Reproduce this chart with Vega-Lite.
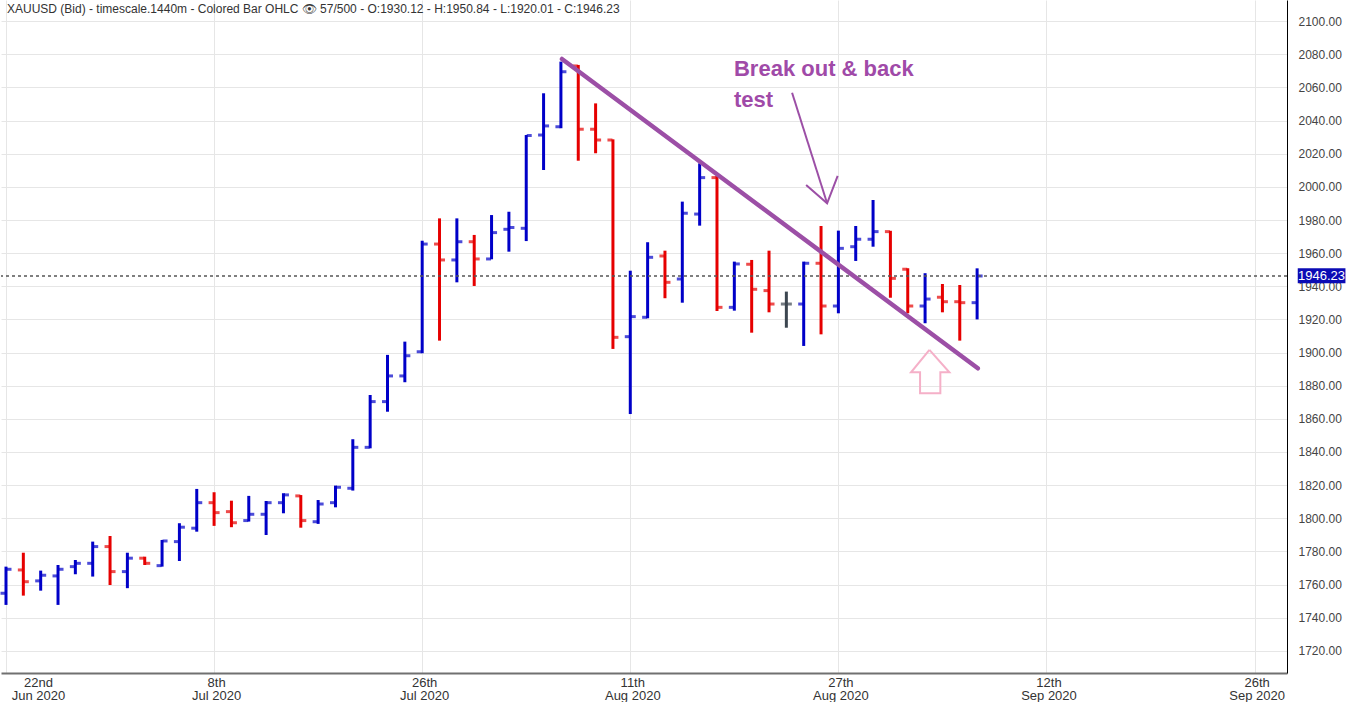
{
  "$schema": "https://vega.github.io/schema/vega-lite/v6.json",
  "width": 1286,
  "height": 673,
  "padding": 0,
  "autosize": {"type": "pad"},
  "background": "white",
  "config": {"view": {"stroke": null}, "font": "Liberation Sans"},
  "title": {"text": "XAUUSD (Bid) - timescale.1440m - Colored Bar OHLC 👁 57/500 - O:1930.12 - H:1950.84 - L:1920.01 - C:1946.23", "anchor": "start", "frame": "group", "offset": -16, "dx": 6, "fontSize": 12, "fontWeight": "normal", "color": "#333333", "font": "Liberation Sans"},
  "datasets": {
    "ohlc": [
      {"i":1,"o":1754.7,"h":1770.8,"l":1747.7,"c":1769.2},
      {"i":2,"o":1768.8,"h":1779.2,"l":1753.3,"c":1761.7},
      {"i":3,"o":1762.2,"h":1768.4,"l":1756.3,"c":1765.6},
      {"i":4,"o":1765.2,"h":1771.8,"l":1747.7,"c":1769.2},
      {"i":5,"o":1770.8,"h":1774.8,"l":1766.2,"c":1772.8},
      {"i":6,"o":1772.8,"h":1785.9,"l":1764.8,"c":1782.9},
      {"i":7,"o":1782.9,"h":1789.3,"l":1759.7,"c":1767.8},
      {"i":8,"o":1767.8,"h":1779.2,"l":1757.8,"c":1775.9},
      {"i":9,"o":1775.9,"h":1776.8,"l":1771.8,"c":1772.8},
      {"i":10,"o":1771.4,"h":1786.9,"l":1770.8,"c":1786.3},
      {"i":11,"o":1785.9,"h":1797.0,"l":1774.2,"c":1794.6},
      {"i":12,"o":1794.0,"h":1817.7,"l":1791.9,"c":1809.4},
      {"i":13,"o":1809.4,"h":1815.7,"l":1795.4,"c":1803.4},
      {"i":14,"o":1804.0,"h":1810.6,"l":1794.6,"c":1797.3},
      {"i":15,"o":1798.6,"h":1813.5,"l":1798.0,"c":1802.4},
      {"i":16,"o":1802.4,"h":1810.4,"l":1789.9,"c":1809.4},
      {"i":17,"o":1809.4,"h":1815.1,"l":1803.0,"c":1814.1},
      {"i":18,"o":1813.5,"h":1814.0,"l":1794.3,"c":1798.6},
      {"i":19,"o":1797.9,"h":1811.0,"l":1796.6,"c":1808.6},
      {"i":20,"o":1809.4,"h":1819.7,"l":1806.6,"c":1818.7},
      {"i":21,"o":1818.1,"h":1847.7,"l":1816.7,"c":1842.8},
      {"i":22,"o":1842.8,"h":1874.4,"l":1842.2,"c":1870.4},
      {"i":23,"o":1870.4,"h":1898.6,"l":1864.3,"c":1885.9},
      {"i":24,"o":1885.9,"h":1906.6,"l":1882.1,"c":1898.1},
      {"i":25,"o":1900.5,"h":1967.5,"l":1899.6,"c":1965.5},
      {"i":26,"o":1965.5,"h":1981.0,"l":1907.2,"c":1955.9},
      {"i":27,"o":1955.9,"h":1981.0,"l":1942.4,"c":1966.9},
      {"i":28,"o":1966.9,"h":1971.0,"l":1940.2,"c":1956.5},
      {"i":29,"o":1956.5,"h":1983.0,"l":1956.3,"c":1972.4},
      {"i":30,"o":1974.4,"h":1985.0,"l":1960.9,"c":1975.5},
      {"i":31,"o":1975.0,"h":2031.3,"l":1967.3,"c":2031.0},
      {"i":32,"o":2031.3,"h":2056.5,"l":2010.2,"c":2036.8},
      {"i":33,"o":2036.3,"h":2075.6,"l":2035.4,"c":2069.5},
      {"i":34,"o":2073.0,"h":2073.6,"l":2015.8,"c":2034.8},
      {"i":35,"o":2034.8,"h":2050.4,"l":2020.3,"c":2028.3},
      {"i":36,"o":2028.3,"h":2028.7,"l":1902.2,"c":1909.2},
      {"i":37,"o":1909.6,"h":1949.4,"l":1862.9,"c":1921.7},
      {"i":38,"o":1921.3,"h":1966.6,"l":1920.7,"c":1957.5},
      {"i":39,"o":1958.3,"h":1961.5,"l":1932.8,"c":1942.4},
      {"i":40,"o":1944.4,"h":1991.1,"l":1930.1,"c":1984.1},
      {"i":41,"o":1983.6,"h":2014.2,"l":1976.6,"c":2005.6},
      {"i":42,"o":2005.6,"h":2006.6,"l":1925.1,"c":1927.3},
      {"i":43,"o":1927.3,"h":1954.9,"l":1925.3,"c":1953.5},
      {"i":44,"o":1953.3,"h":1955.9,"l":1912.0,"c":1938.2},
      {"i":45,"o":1937.4,"h":1961.5,"l":1924.3,"c":1929.3},
      {"i":46,"o":1929.3,"h":1936.8,"l":1915.0,"c":1929.3},
      {"i":47,"o":1929.3,"h":1954.9,"l":1904.0,"c":1953.9},
      {"i":48,"o":1953.9,"h":1976.4,"l":1911.0,"c":1928.1},
      {"i":49,"o":1928.1,"h":1973.6,"l":1923.7,"c":1962.9},
      {"i":50,"o":1963.9,"h":1976.4,"l":1955.3,"c":1968.4},
      {"i":51,"o":1968.4,"h":1992.1,"l":1963.9,"c":1973.0},
      {"i":52,"o":1973.0,"h":1973.5,"l":1933.1,"c":1944.8},
      {"i":53,"o":1950.3,"h":1950.9,"l":1923.7,"c":1928.1},
      {"i":54,"o":1928.1,"h":1947.9,"l":1917.7,"c":1932.3},
      {"i":55,"o":1933.4,"h":1941.4,"l":1924.3,"c":1930.7},
      {"i":56,"o":1930.7,"h":1940.8,"l":1907.2,"c":1930.12},
      {"i":57,"o":1930.12,"h":1950.84,"l":1920.01,"c":1946.23}
    ],
    "trend": [{"i":33.06,"p":2077.2},{"i":57.04,"p":1890.5}],
    "arrow": [
      {"seg":"a","k":1,"i":46.33,"p":2056.8},
      {"seg":"a","k":2,"i":48.35,"p":1990.1},
      {"seg":"b","k":1,"i":47.14,"p":2001.1},
      {"seg":"b","k":2,"i":48.35,"p":1990.1},
      {"seg":"b","k":3,"i":48.96,"p":2006.6}
    ],
    "uparrow": [
      {"k":1,"i":54.25,"p":1901.6},
      {"k":2,"i":55.40,"p":1888.1},
      {"k":3,"i":54.88,"p":1888.1},
      {"k":4,"i":54.88,"p":1875.4},
      {"k":5,"i":53.71,"p":1875.4},
      {"k":6,"i":53.71,"p":1888.1},
      {"k":7,"i":53.19,"p":1888.1},
      {"k":8,"i":54.25,"p":1901.6}
    ],
    "note": [{"i":42.98,"p":2067.1}],
    "last": [{"i1":75.49,"i2":78.24,"p1":1941.8,"p2":1950.9,"im":76.86,"p":1946.23,"label":"1946.23"}]
  },
  "layer": [
    {
      "data": {"name": "ohlc"},
      "mark": {"type": "rule", "strokeWidth": 3},
      "encoding": {
        "x": {"field": "i", "type": "quantitative", "title": null,
              "scale": {"domain": [0.712, 74.87], "nice": false, "zero": false},
              "axis": {"orient": "bottom", "title": null, "values": [1, 13, 25, 37, 49, 61, 73], "tickCount": 20,
                       "labelExpr": "datum.value == 1 ? ['22nd', 'Jun 2020'] : datum.value == 13 ? ['8th', 'Jul 2020'] : datum.value == 25 ? ['26th', 'Jul 2020'] : datum.value == 37 ? ['11th', 'Aug 2020'] : datum.value == 49 ? ['27th', 'Aug 2020'] : datum.value == 61 ? ['12th', 'Sep 2020'] : ['26th', 'Sep 2020']",
                       "labelOffset": {"condition": {"test": "datum.value == 1", "value": 32}, "value": 2},
                       "labelFontSize": 13, "labelLineHeight": 13, "labelColor": "#333333", "labelPadding": 3,
                       "labelOverlap": false, "labelBound": false, "labelFlush": false,
                       "ticks": false, "domainColor": "#707070", "domainWidth": 2,
                       "grid": true, "gridColor": "#e6e6e6", "gridWidth": 1}},
        "y": {"field": "l", "type": "quantitative", "title": null,
              "scale": {"domain": [1706.6, 2112.8], "nice": false, "zero": false},
              "axis": {"orient": "right", "title": null, "tickCount": 50,
                       "values": [1720, 1740, 1760, 1780, 1800, 1820, 1840, 1860, 1880, 1900, 1920, 1940, 1960, 1980, 2000, 2020, 2040, 2060, 2080, 2100],
                       "format": ".2f", "labelFontSize": 12, "labelColor": "#444444", "labelPadding": 11,
                       "labelOverlap": false, "labelBound": false, "labelFlush": false,
                       "ticks": false, "domainColor": "#000000", "domainWidth": 1,
                       "grid": true, "gridColor": "#e6e6e6", "gridWidth": 1}},
        "y2": {"field": "h"},
        "color": {"condition": [{"test": "datum.c > datum.o", "value": "#0000c8"}, {"test": "datum.c < datum.o", "value": "#e60000"}], "value": "#3c4650"}
      }
    },
    {
      "data": {"name": "ohlc"},
      "mark": {"type": "tick", "orient": "horizontal", "size": 5, "thickness": 3, "xOffset": -3},
      "encoding": {
        "x": {"field": "i", "type": "quantitative", "title": null},
        "y": {"field": "o", "type": "quantitative", "title": null},
        "color": {"condition": [{"test": "datum.c > datum.o", "value": "#0000c8"}, {"test": "datum.c < datum.o", "value": "#e60000"}], "value": "#3c4650"}
      }
    },
    {
      "data": {"name": "ohlc"},
      "mark": {"type": "tick", "orient": "horizontal", "size": 5, "thickness": 3, "xOffset": 3},
      "encoding": {
        "x": {"field": "i", "type": "quantitative", "title": null},
        "y": {"field": "c", "type": "quantitative", "title": null},
        "color": {"condition": [{"test": "datum.c > datum.o", "value": "#0000c8"}, {"test": "datum.c < datum.o", "value": "#e60000"}], "value": "#3c4650"}
      }
    },
    {
      "data": {"values": [{"p": 1946.23}]},
      "mark": {"type": "rule", "color": "#555555", "strokeDash": [3, 3], "strokeWidth": 1.5},
      "encoding": {"y": {"field": "p", "type": "quantitative", "title": null}}
    },
    {
      "data": {"name": "trend"},
      "mark": {"type": "line", "color": "#9c4fa6", "strokeWidth": 4.5, "strokeCap": "round"},
      "encoding": {
        "x": {"field": "i", "type": "quantitative", "title": null},
        "y": {"field": "p", "type": "quantitative", "title": null}
      }
    },
    {
      "data": {"name": "arrow"},
      "mark": {"type": "line", "color": "#9c4fa6", "strokeWidth": 2},
      "encoding": {
        "x": {"field": "i", "type": "quantitative", "title": null},
        "y": {"field": "p", "type": "quantitative", "title": null},
        "detail": {"field": "seg"},
        "order": {"field": "k"}
      }
    },
    {
      "data": {"name": "uparrow"},
      "mark": {"type": "line", "color": "#f5b0c8", "strokeWidth": 2},
      "encoding": {
        "x": {"field": "i", "type": "quantitative", "title": null},
        "y": {"field": "p", "type": "quantitative", "title": null},
        "order": {"field": "k"}
      }
    },
    {
      "data": {"name": "note"},
      "mark": {"type": "text", "text": ["Break out & back", "test"], "align": "left", "baseline": "alphabetic", "fontSize": 22, "fontWeight": "bold", "color": "#a04aa8", "lineHeight": 31, "font": "Liberation Sans"},
      "encoding": {
        "x": {"field": "i", "type": "quantitative", "title": null},
        "y": {"field": "p", "type": "quantitative", "title": null}
      }
    },
    {
      "data": {"name": "last"},
      "mark": {"type": "rect", "color": "#0b0bb5"},
      "encoding": {
        "x": {"field": "i1", "type": "quantitative", "title": null},
        "x2": {"field": "i2"},
        "y": {"field": "p1", "type": "quantitative", "title": null},
        "y2": {"field": "p2"}
      }
    },
    {
      "data": {"name": "last"},
      "mark": {"type": "text", "color": "white", "fontSize": 13, "align": "center", "baseline": "middle", "font": "Liberation Sans"},
      "encoding": {
        "x": {"field": "im", "type": "quantitative", "title": null},
        "y": {"field": "p", "type": "quantitative", "title": null},
        "text": {"field": "label"}
      }
    }
  ]
}
